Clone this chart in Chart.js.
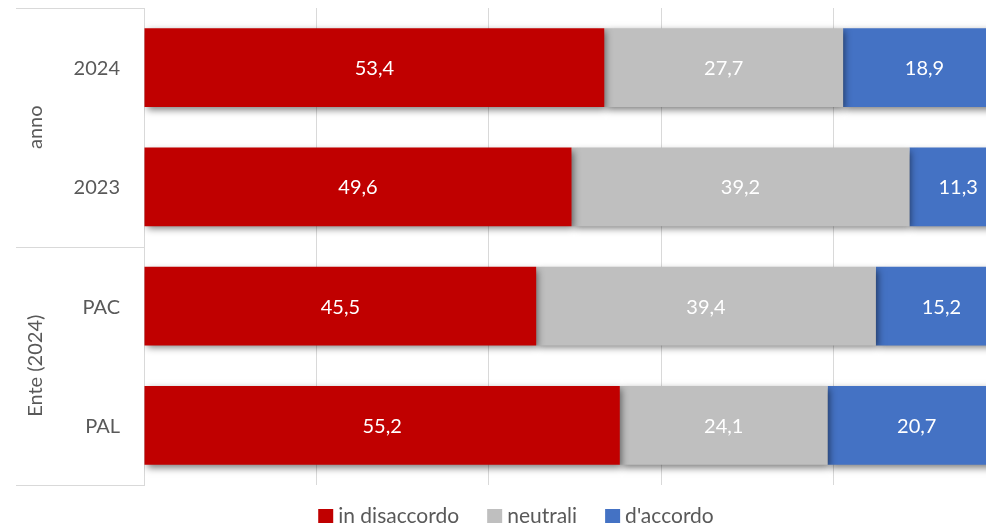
<!DOCTYPE html>
<html>
<head>
<meta charset="utf-8">
<script src="https://cdn.jsdelivr.net/npm/chart.js@4/dist/chart.umd.min.js"></script>
<style>
html,body{margin:0;padding:0;background:#fff;overflow:hidden;width:986px;height:526px;}
#wrap{width:1010px;height:526px;}
</style>
</head>
<body>
<div id="wrap"><canvas id="c" width="1010" height="526"></canvas></div>
<script>
const categories = ['2024', '2023', 'PAC', 'PAL'];
const groupLabels = ['anno', 'Ente (2024)'];
const groupSizes = [2, 2];
const seriesNames = ['in disaccordo', 'neutrali', "d'accordo"];
const disaccordo = [53.4, 49.6, 45.5, 55.2];
const neutrali = [27.7, 39.2, 39.4, 24.1];
const accordo = [18.9, 11.3, 15.2, 20.7];
const xTicks = [0, 20, 40, 60, 80, 100];

const colors = ['#C00000', '#BFBFBF', '#4472C4'];
const FONT = 'Lato, "Open Sans", sans-serif';
const TXT = '#595959';
const LINE = '#D9D9D9';

const shadowPlugin = {
  id: 'shadow',
  beforeDatasetDraw(chart) {
    const ctx = chart.ctx;
    ctx.save();
    ctx.shadowColor = 'rgba(0,0,0,0.5)';
    ctx.shadowBlur = 7;
    ctx.shadowOffsetX = 2;
    ctx.shadowOffsetY = 3;
  },
  afterDatasetDraw(chart) {
    chart.ctx.restore();
  }
};

const labelsPlugin = {
  id: 'labelsDraw',
  afterDatasetsDraw(chart) {
    const ctx = chart.ctx;
    ctx.save();
    ctx.font = '20px ' + FONT;
    ctx.fillStyle = '#FFFFFF';
    ctx.textAlign = 'center';
    ctx.textBaseline = 'middle';
    chart.data.datasets.forEach((ds, di) => {
      const meta = chart.getDatasetMeta(di);
      meta.data.forEach((el, i) => {
        const v = ds.data[i];
        const cx = (el.x + el.base) / 2;
        ctx.fillText(v.toFixed(1).replace('.', ','), cx, el.y + 1);
      });
    });
    ctx.restore();
  },
  afterDraw(chart) {
    const ctx = chart.ctx;
    const ys = chart.scales.y;
    const area = chart.chartArea;
    ctx.save();
    // category labels
    ctx.font = '20px ' + FONT;
    ctx.fillStyle = TXT;
    ctx.textAlign = 'right';
    ctx.textBaseline = 'middle';
    categories.forEach((c, i) => {
      ctx.fillText(c, area.left - 24, ys.getPixelForTick(i) + 1);
    });
    // group separators
    const bounds = [area.top];
    let idx = 0;
    groupSizes.forEach((n) => {
      idx += n;
      if (idx < categories.length) {
        bounds.push((ys.getPixelForTick(idx - 1) + ys.getPixelForTick(idx)) / 2);
      } else {
        bounds.push(area.bottom);
      }
    });
    ctx.strokeStyle = LINE;
    ctx.lineWidth = 1;
    bounds.forEach(b => {
      const y = Math.round(b) + 0.5;
      ctx.beginPath();
      ctx.moveTo(16, y);
      ctx.lineTo(area.left, y);
      ctx.stroke();
    });
    ctx.textAlign = 'center';
    groupLabels.forEach((g, gi) => {
      const cy = (bounds[gi] + bounds[gi + 1]) / 2;
      ctx.save();
      ctx.translate(36, cy);
      ctx.rotate(-Math.PI / 2);
      ctx.fillText(g, 0, 0);
      ctx.restore();
    });
    // legend
    ctx.font = '21px ' + FONT;
    ctx.textAlign = 'left';
    const boxW = 15, boxH = 14, gapText = 5, gapItem = 28;
    const widths = seriesNames.map(s => ctx.measureText(s).width);
    let total = 0;
    widths.forEach((w, i) => { total += boxW + gapText + w + (i < widths.length - 1 ? gapItem : 0); });
    let x = 516 - total / 2;
    const ly = 516;
    seriesNames.forEach((s, i) => {
      ctx.fillStyle = colors[i];
      ctx.fillRect(x, ly - 7, boxW, boxH);
      ctx.fillStyle = TXT;
      ctx.fillText(s, x + boxW + gapText, ly);
      x += boxW + gapText + widths[i] + gapItem;
    });
    ctx.restore();
  }
};

new Chart(document.getElementById('c'), {
  type: 'bar',
  data: {
    labels: categories,
    datasets: [
      { label: seriesNames[0], data: disaccordo, backgroundColor: colors[0] },
      { label: seriesNames[1], data: neutrali, backgroundColor: colors[1] },
      { label: seriesNames[2], data: accordo, backgroundColor: colors[2] }
    ]
  },
  options: {
    indexAxis: 'y',
    responsive: false,
    animation: false,
    devicePixelRatio: 1,
    layout: { padding: { left: 0, top: 8, right: 4, bottom: 41 } },
    datasets: { bar: { barPercentage: 0.66, categoryPercentage: 1, borderWidth: 0 } },
    plugins: { legend: { display: false }, tooltip: { enabled: false } },
    scales: {
      x: {
        stacked: true,
        min: 0,
        max: 100,
        afterBuildTicks: s => { s.ticks = xTicks.map(v => ({ value: v })); },
        ticks: { display: false },
        grid: { color: LINE, lineWidth: 1, drawTicks: false },
        border: { display: false },
        afterFit: s => { s.height = 0; }
      },
      y: {
        stacked: true,
        grid: { display: false, drawTicks: false },
        border: { display: true, color: LINE, width: 1 },
        ticks: { display: false, padding: 0 },
        afterFit: s => { s.width = 144; s.paddingTop = 0; s.paddingBottom = 0; }
      }
    }
  },
  plugins: [shadowPlugin, labelsPlugin]
});
</script>
</body>
</html>
